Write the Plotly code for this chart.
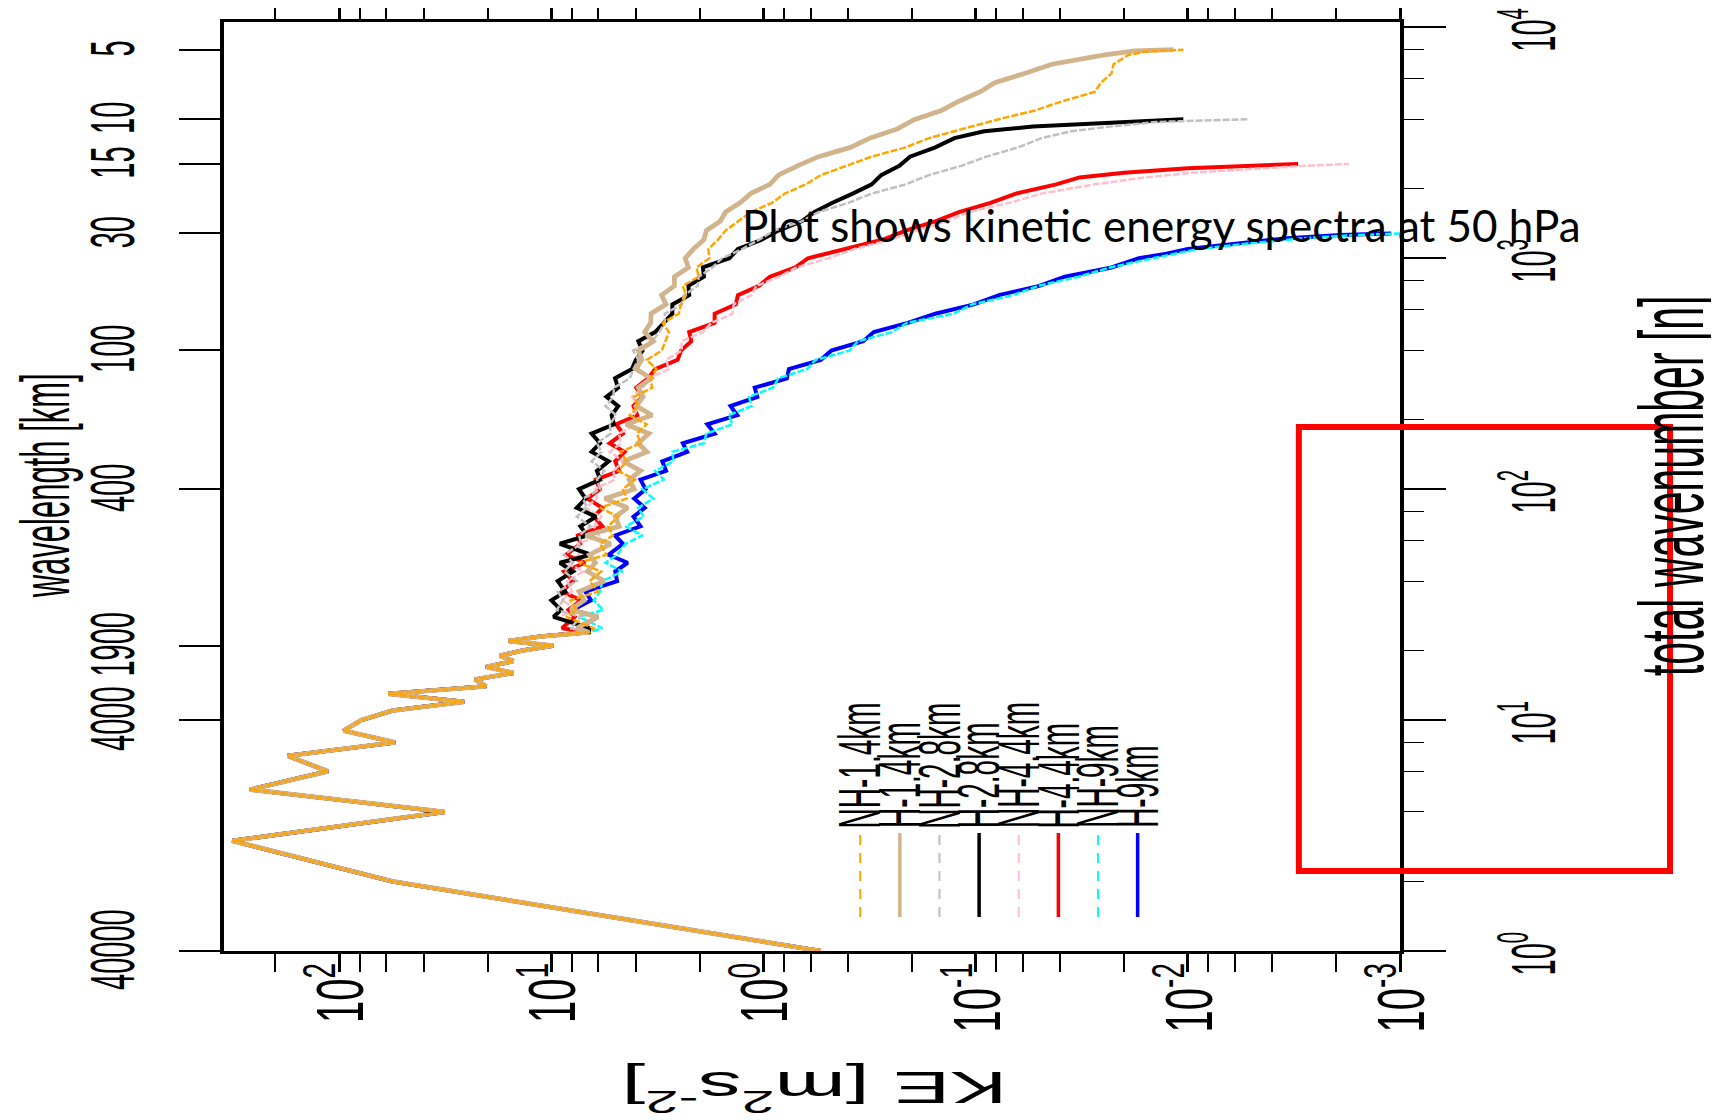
import json
import plotly.graph_objects as go

# ---------------- data ----------------
# total wavenumber n (shared low-wavenumber part, identical for all runs)
N_LOW = [1, 2, 3, 4, 5, 6, 7, 8, 9, 10, 11, 12, 13, 14, 15, 16, 17, 18, 19, 20, 21, 22, 23, 24]
KE_LOW = [0.537, 56.0, 319, 31.8, 263, 113, 175, 54.6, 95.3, 78.5, 56.0, 25.8, 58.7, 20.3,
          22.9, 15.1, 20.3, 15.1, 17.5, 13.7, 9.80, 15.9, 11.3, 6.65]

N_MID = [25, 28, 30, 33, 36, 40, 44, 48, 52, 58, 63, 69, 76, 83, 91, 100, 110, 120, 132, 145,
         158, 174, 191, 209, 229, 251, 275, 302, 331, 363, 398, 437, 479, 525, 575, 631, 692,
         759, 832, 912, 1000]

# NH-1.4km
KE_NH14_MID = [6.31, 8.51, 7.60, 8.13, 6.03, 6.60, 5.82, 7.41, 5.50, 5.90, 5.13, 5.40, 4.84, 5.89,
               4.42, 4.60, 4.03, 4.84, 4.40, 4.73, 3.80, 3.95, 3.55, 4.27, 3.90, 4.07, 3.35, 3.40,
               3.20, 3.55, 3.02, 2.90, 2.79, 2.99, 2.51, 2.45, 2.32, 2.40, 2.02, 2.07, 1.80]
N_NH14_TAIL = [1096, 1202, 1318, 1445, 1585, 1738, 1905, 2089, 2291, 2512, 2754, 3020, 3311, 3631,
               3981, 4365, 4786, 5248, 5754, 6310, 6918, 7586, 7850, 7999]
KE_NH14_TAIL = [1.82, 1.64, 1.51, 1.32, 1.15, 0.912, 0.794, 0.631, 0.537, 0.407, 0.309, 0.214,
                0.166, 0.115, 0.0794, 0.0525, 0.0389, 0.0275, 0.0257, 0.0229, 0.0224, 0.0191,
                0.0158, 0.0105]

# H-1.4km
KE_H14_MID = [7.59, 6.03, 8.13, 7.00, 7.41, 5.62, 6.76, 6.20, 6.61, 5.25, 6.90, 4.79, 5.00, 4.37,
              5.60, 4.07, 4.30, 3.80, 4.57, 3.55, 3.90, 3.47, 4.45, 3.35, 3.98, 3.70, 3.89, 3.39,
              3.98, 3.75, 3.89, 3.31, 3.63, 3.40, 3.39, 2.88, 3.02, 2.63, 2.63, 2.26, 2.34]
N_H14_TAIL = [1096, 1202, 1318, 1445, 1585, 1738, 1905, 2089, 2291, 2512, 2754, 3020, 3311, 3631,
              3981, 4365, 4786, 5248, 5754, 6310, 6918, 7586, 7900, 7999]
KE_H14_TAIL = [2.14, 1.91, 1.86, 1.60, 1.51, 1.29, 1.15, 0.933, 0.851, 0.692, 0.550, 0.389, 0.316,
               0.234, 0.195, 0.145, 0.120, 0.0955, 0.0813, 0.0589, 0.0437, 0.0251, 0.0178, 0.0117]

# NH-2.8km
KE_NH28_MID = [8.13, 7.24, 9.44, 8.80, 9.33, 7.59, 8.71, 7.90, 8.71, 7.24, 7.40, 6.53, 7.59, 6.80,
               7.08, 5.89, 6.10, 5.62, 6.46, 5.80, 6.10, 5.25, 5.30, 4.95, 5.56, 5.10, 5.07, 4.27,
               4.10, 3.89, 4.12, 3.35, 3.10, 2.92, 2.92, 2.43, 2.37, 2.04, 2.02, 1.74, 1.57]
N_NH28_TAIL = [1096, 1202, 1318, 1445, 1585, 1738, 1905, 2089, 2291, 2512, 2754, 3020, 3311,
               3548, 3715, 3890, 3999]
KE_NH28_TAIL = [1.26, 1.05, 0.891, 0.661, 0.550, 0.398, 0.309, 0.214, 0.166, 0.117, 0.0891,
                0.0631, 0.0490, 0.0355, 0.0234, 0.0141, 0.00525]

# H-2.8km
KE_H28_MID = [6.61, 9.77, 9.00, 10.0, 8.60, 9.33, 7.90, 9.12, 6.50, 9.12, 6.76, 7.30, 6.17, 7.59,
              6.90, 7.41, 5.89, 6.10, 5.37, 6.46, 5.90, 6.46, 5.07, 5.20, 4.84, 5.50, 4.85, 5.01,
              4.17, 4.00, 3.72, 3.89, 3.24, 2.95, 2.69, 2.69, 2.24, 2.26, 1.91, 1.93, 1.45]
N_H28_TAIL = [1096, 1202, 1318, 1445, 1585, 1738, 1905, 2089, 2291, 2512, 2754, 3020, 3311,
              3548, 3715, 3846, 3999]
KE_H28_TAIL = [1.32, 1.02, 0.851, 0.661, 0.575, 0.473, 0.380, 0.309, 0.279, 0.229, 0.204, 0.155,
               0.126, 0.0912, 0.0537, 0.0234, 0.0105]

# NH-4.4km
KE_NH44_MID = [6.92, 9.33, 7.50, 8.91, 8.00, 8.41, 7.08, 8.41, 7.40, 7.50, 5.96, 6.30, 5.82, 6.92,
               6.10, 6.24, 5.01, 5.10, 4.57, 5.31, 4.70, 4.79, 4.03, 4.10, 3.85, 4.17, 3.70, 3.47,
               2.79, 2.88, 2.43, 2.43, 1.93, 1.76, 1.40, 1.38, 1.14, 1.08, 0.841, 0.700, 0.495]
N_NH44_TAIL = [1096, 1202, 1318, 1445, 1585, 1738, 1905, 2089, 2239, 2344, 2455, 2512, 2559]
KE_NH44_TAIL = [0.372, 0.251, 0.191, 0.138, 0.107, 0.0692, 0.0490, 0.0275, 0.0158, 0.00955,
                0.00447, 0.00282, 0.00174]

# H-4.4km
KE_H44_MID = [8.91, 7.76, 8.30, 7.24, 8.91, 7.90, 8.71, 6.92, 8.51, 7.30, 7.50, 5.75, 6.30, 5.75,
              6.76, 5.90, 6.17, 4.79, 5.00, 4.52, 5.31, 4.60, 4.95, 3.94, 4.10, 3.72, 3.98, 3.50,
              3.24, 2.54, 2.45, 2.19, 2.24, 1.70, 1.70, 1.35, 1.32, 1.05, 0.933, 0.708, 0.617]
N_H44_TAIL = [1096, 1202, 1318, 1445, 1585, 1738, 1905, 2089, 2239, 2344, 2455, 2512, 2559]
KE_H44_TAIL = [0.417, 0.275, 0.214, 0.155, 0.120, 0.0851, 0.0646, 0.0417, 0.0324, 0.0200,
               0.0100, 0.00562, 0.00302]

# NH-9km
KE_NH9_MID = [5.75, 7.41, 5.69, 6.31, 5.90, 5.75, 4.62, 5.56, 4.90, 4.47, 3.72, 4.47, 3.67, 3.90,
              3.31, 3.72, 2.95, 3.24, 2.66, 2.69, 1.91, 1.86, 1.40, 1.46, 1.14, 1.17, 0.902, 0.851,
              0.624, 0.569, 0.394, 0.359, 0.248, 0.211, 0.127, 0.104, 0.0668, 0.0507, 0.0327,
              0.0232, 0.0146]
N_NH9_TAIL = [1047, 1096, 1161, 1222, 1262, 1279]
KE_NH9_TAIL = [0.0115, 0.00891, 0.00501, 0.00282, 0.00158, 0.00100]

# H-9km
KE_H9_MID = [7.41, 6.03, 7.94, 6.50, 6.92, 4.90, 5.00, 4.37, 5.37, 4.60, 5.01, 3.80, 4.10, 3.63,
             4.07, 3.60, 3.80, 2.88, 3.00, 2.29, 2.40, 1.70, 1.84, 1.33, 1.43, 1.07, 1.10, 0.776,
             0.759, 0.537, 0.479, 0.339, 0.302, 0.209, 0.155, 0.102, 0.0776, 0.0501, 0.0380,
             0.0229, 0.0170]
N_H9_TAIL = [1047, 1096, 1161, 1222, 1262, 1279]
KE_H9_TAIL = [0.0126, 0.0100, 0.00589, 0.00339, 0.00191, 0.00110]

SERIES_NAMES = ["NH-1.4km", "H-1.4km", "NH-2.8km", "H-2.8km", "NH-4.4km", "H-4.4km", "NH-9km", "H-9km"]

# axis ticks
KE_TICKS = [100, 10, 1, 0.1, 0.01, 0.001]
KE_TICK_TEXT = ["10<sup>2</sup>", "10<sup>1</sup>", "10<sup>0</sup>", "10<sup>-1</sup>",
                "10<sup>-2</sup>", "10<sup>-3</sup>"]
KE_MINOR = [200, 80, 60, 40, 20, 8, 6, 4, 2, 0.8, 0.6, 0.4, 0.2, 0.08, 0.06, 0.04, 0.02,
            0.008, 0.006, 0.004, 0.002]
N_TICKS = [1, 10, 100, 1000, 10000]
N_TICK_TEXT = ["10<sup>0</sup>", "10<sup>1</sup>", "10<sup>2</sup>", "10<sup>3</sup>", "10<sup>4</sup>"]
N_MINOR = [2, 4, 6, 8, 20, 40, 60, 80, 200, 400, 600, 800, 2000, 4000, 6000, 8000]
WL_N = [1, 10, 21, 100, 400, 1280, 2560, 4000, 8000]
WL_TEXT = ["40000", "4000", "1900", "400", "100", "30", "15", "10", "5"]

# ---------------- styles ----------------
STYLE = {
    "NH-1.4km": dict(color="#FFA500", width=2.5, dash="7px,2px"),
    "H-1.4km": dict(color="#D2B48C", width=4.8, dash="solid"),
    "NH-2.8km": dict(color="#C0C0C0", width=2.5, dash="7px,2px"),
    "H-2.8km": dict(color="#000000", width=4.0, dash="solid"),
    "NH-4.4km": dict(color="#FFC0CB", width=2.5, dash="7px,2px"),
    "H-4.4km": dict(color="#FF0000", width=4.0, dash="solid"),
    "NH-9km": dict(color="#00FFFF", width=2.5, dash="7px,2px"),
    "H-9km": dict(color="#0000FF", width=4.0, dash="solid"),
}

DATA = {
    "NH-1.4km": (N_LOW + N_MID + N_NH14_TAIL, KE_LOW + KE_NH14_MID + KE_NH14_TAIL),
    "H-1.4km": (N_LOW + N_MID + N_H14_TAIL, KE_LOW + KE_H14_MID + KE_H14_TAIL),
    "NH-2.8km": (N_LOW + N_MID + N_NH28_TAIL, KE_LOW + KE_NH28_MID + KE_NH28_TAIL),
    "H-2.8km": (N_LOW + N_MID + N_H28_TAIL, KE_LOW + KE_H28_MID + KE_H28_TAIL),
    "NH-4.4km": (N_LOW + N_MID + N_NH44_TAIL, KE_LOW + KE_NH44_MID + KE_NH44_TAIL),
    "H-4.4km": (N_LOW + N_MID + N_H44_TAIL, KE_LOW + KE_H44_MID + KE_H44_TAIL),
    "NH-9km": (N_LOW + N_MID + N_NH9_TAIL, KE_LOW + KE_NH9_MID + KE_NH9_TAIL),
    "H-9km": (N_LOW + N_MID + N_H9_TAIL, KE_LOW + KE_H9_MID + KE_H9_TAIL),
}

SANS = "Liberation Sans, Arial, Helvetica, sans-serif"

fig = go.Figure()

# draw order: 9km first, 1.4km last (1.4km lines lie on top)
for name in reversed(SERIES_NAMES):
    n_vals, ke_vals = DATA[name]
    st = STYLE[name]
    fig.add_trace(go.Scatter(
        x=ke_vals, y=n_vals, mode="lines", name=name,
        line=dict(color=st["color"], width=st["width"], dash=st["dash"]),
        hoverinfo="skip", showlegend=False,
    ))

# empty trace to carry the right-hand wavenumber axis
fig.add_trace(go.Scatter(x=[], y=[], yaxis="y2", showlegend=False, hoverinfo="skip"))

# the page body has an 8px default margin: plot area lands at x 224..1400, y 22..951
fig.update_layout(
    width=1719, height=1120,
    margin=dict(l=216, r=327, t=14, b=177, autoexpand=False),
    paper_bgcolor="white", plot_bgcolor="white",
    showlegend=False,
    xaxis=dict(
        type="log", range=[2.543, -3.0],
        tickvals=KE_TICKS, ticktext=KE_TICK_TEXT, tickangle=-90,
        ticks="outside", ticklen=18, tickwidth=3, tickcolor="black",
        ticklabelstandoff=-25, ticklabeloverflow="allow",
        tickfont=dict(family=SANS, size=40, color="black"),
        minor=dict(tickvals=KE_MINOR, ticks="outside", ticklen=9, tickwidth=1.5,
                   tickcolor="black", showgrid=False),
        showline=True, linewidth=3, linecolor="black", mirror="allticks",
        showgrid=False, zeroline=False,
    ),
    yaxis=dict(
        type="log", range=[0, 4.023],
        tickvals=WL_N, ticktext=WL_TEXT, tickangle=-90,
        ticks="outside", ticklen=41, tickwidth=1.5, tickcolor="black",
        ticklabelstandoff=46, ticklabeloverflow="allow",
        tickfont=dict(family=SANS, size=29, color="black"),
        showline=True, linewidth=3.5, linecolor="black",
        showgrid=False, zeroline=False,
    ),
    yaxis2=dict(
        type="log", range=[0, 4.023], overlaying="y", side="right", anchor="x",
        tickvals=N_TICKS, ticktext=N_TICK_TEXT, tickangle=-90,
        ticks="outside", ticklen=42, tickwidth=1.5, tickcolor="black",
        ticklabelstandoff=60, ticklabeloverflow="allow",
        tickfont=dict(family=SANS, size=29, color="black"),
        minor=dict(tickvals=N_MINOR, ticks="outside", ticklen=20, tickwidth=1.2,
                   tickcolor="black", showgrid=False),
        showline=True, linewidth=3.5, linecolor="black",
        showgrid=False, zeroline=False,
    ),
)

annotations = []
ann_stretch = {}
# axis titles (rotated like the reference)
ann_stretch[len(annotations)] = 1.9
annotations.append(dict(text="KE [m<sup>2</sup>s<sup>-2</sup>]", textangle=180,
                        xref="paper", yref="paper", x=0.5017, y=-0.150,
                        xanchor="center", yanchor="middle", showarrow=False,
                        font=dict(family=SANS, size=45, color="black")))
ann_stretch[len(annotations)] = 2.2
annotations.append(dict(text="wavelength [km]", textangle=-90,
                        xref="paper", yref="paper", x=-0.152, y=0.5005,
                        xanchor="center", yanchor="middle", showarrow=False,
                        font=dict(family=SANS, size=31, color="black")))
ann_stretch[len(annotations)] = 2.2
annotations.append(dict(text="total wavenumber [n]", textangle=-90,
                        xref="paper", yref="paper", x=1.2313, y=0.5005,
                        xanchor="center", yanchor="middle", showarrow=False,
                        font=dict(family=SANS, size=41, color="black")))
# overlay caption (not stretched)
annotations.append(dict(text="Plot shows kinetic energy spectra at 50 hPa",
                        xref="paper", yref="paper", x=0.4385, y=0.782,
                        xanchor="left", yanchor="middle", showarrow=False,
                        font=dict(family="Lato, Carlito, Open Sans, sans-serif", size=44,
                                  color="black")))

# hand-made rotated legend
LEG_X0 = 0.541
LEG_DX = 0.0337
shapes = []
for i, name in enumerate(SERIES_NAMES):
    st = STYLE[name]
    xp = LEG_X0 + i * LEG_DX
    shapes.append(dict(type="line", xref="paper", yref="paper",
                       x0=xp, x1=xp, y0=0.0366, y1=0.127,
                       line=dict(color=st["color"],
                                 width=3.5 if st["dash"] == "solid" else 2,
                                 dash="solid" if st["dash"] == "solid" else "10px,8px")))
    ann_stretch[len(annotations)] = 2.1
    annotations.append(dict(text=name, textangle=-90, xref="paper", yref="paper",
                            x=xp, y=0.130, xanchor="center", yanchor="bottom",
                            showarrow=False,
                            font=dict(family=SANS, size=28, color="black")))

# red highlight box
shapes.append(dict(type="rect", xref="paper", yref="paper",
                   x0=0.914, x1=1.2296, y0=0.0861, y1=0.564,
                   line=dict(color="#FF0000", width=6), fillcolor="rgba(0,0,0,0)",
                   layer="above"))

fig.update_layout(annotations=annotations, shapes=shapes)

# The reference picture was stretched sideways: widen its texts the same way
# (class: [horizontal stretch, vertical nudge in px])
TICK_STRETCH = {"xtick": [1.65, 0], "ytick": [2.2, 3], "y2tick": [2.2, 7]}
post = """
var gd = document.getElementById('{plot_id}');
var NS = 'http://www.w3.org/2000/svg';
function stretch(el, sx, dy) {
  var w = document.createElementNS(NS, 'g');
  el.parentNode.insertBefore(w, el);
  w.appendChild(el);
  var b = w.getBBox();
  var cx = b.x + b.width / 2, cy = b.y + b.height / 2;
  w.setAttribute('transform', 'translate(' + cx + ',' + (cy + dy) + ') scale(' + sx + ',1) translate(' + (-cx) + ',' + (-cy) + ')');
}
var TICKS = __TICKS__;
Object.keys(TICKS).forEach(function (cls) {
  gd.querySelectorAll('g.' + cls + ' > text').forEach(function (t) { stretch(t, TICKS[cls][0], TICKS[cls][1]); });
});
var ANN = __ANN__;
gd.querySelectorAll('g.annotation').forEach(function (a) {
  var s = ANN[a.getAttribute('data-index')];
  if (s) { stretch(a, s, 0); }
});
""".replace("__TICKS__", json.dumps(TICK_STRETCH)).replace(
    "__ANN__", json.dumps({str(k): v for k, v in ann_stretch.items()}))

fig.write_html("out.html", post_script=post)
